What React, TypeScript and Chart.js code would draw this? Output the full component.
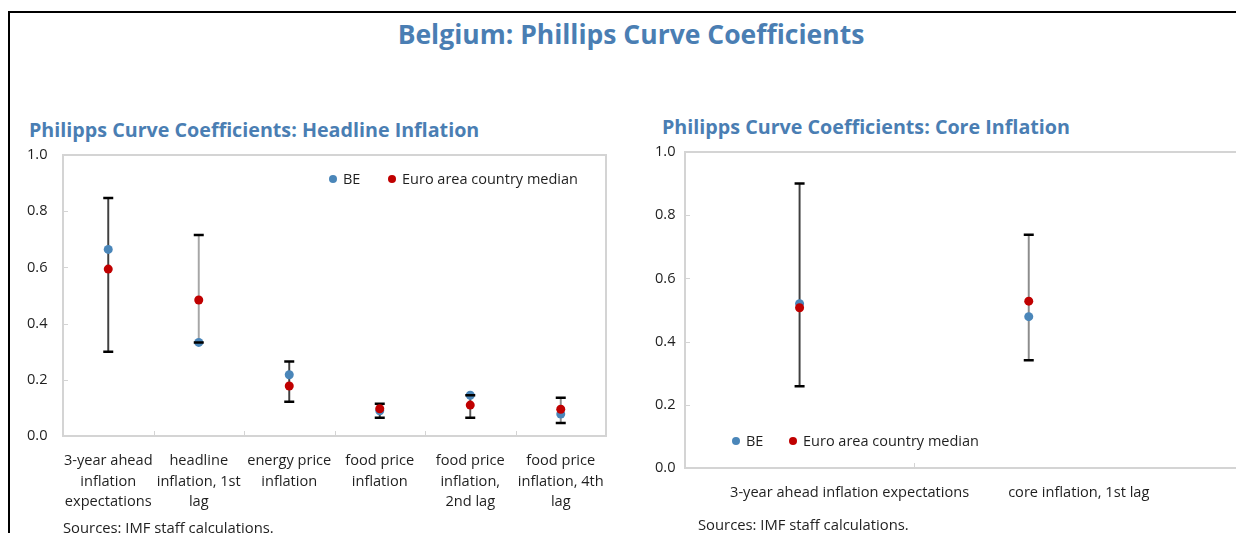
import React, { useEffect, useRef } from 'react';
import { Chart, registerables } from 'chart.js';

Chart.register(...registerables);

// ---------- data ----------
const headlineCategories: string[][] = [
  ['3-year ahead', 'inflation', 'expectations'],
  ['headline', 'inflation, 1st', 'lag'],
  ['energy price', 'inflation'],
  ['food price', 'inflation'],
  ['food price', 'inflation,', '2nd lag'],
  ['food price', 'inflation, 4th', 'lag'],
];
const headlineBE = [0.664, 0.333, 0.218, 0.09, 0.145, 0.078];
const headlineMedian = [0.594, 0.484, 0.178, 0.097, 0.11, 0.095];
const headlineLow = [0.3, 0.333, 0.122, 0.065, 0.065, 0.046];
const headlineHigh = [0.847, 0.715, 0.265, 0.115, 0.145, 0.136];

const coreCategories: string[] = ['3-year ahead inflation expectations', 'core inflation, 1st lag'];
const coreBE = [0.52, 0.479];
const coreMedian = [0.507, 0.528];
const coreLow = [0.259, 0.341];
const coreHigh = [0.9, 0.738];

const yMin = 0;
const yMax = 1;
const yStep = 0.2;

const seriesNames = ['BE', 'Euro area country median'];

// ---------- styles ----------
const BLUE = '#4a86b9';
const RED = '#c00000';
const TITLE_BLUE = '#4a7eb3';
const TEXT = '#1f1f1f';
const FONT = '"Open Sans", "Noto Sans", sans-serif';
const headlineLineColors = ['#404040', '#a6a6a6', '#404040', '#404040', '#595959', '#8c8c8c'];
const coreLineColors = ['#404040', '#8c8c8c'];

const framePlugin = {
  id: 'frame',
  beforeDatasetsDraw(chart: any, _args: any, opts: any) {
    const { ctx, chartArea: a, scales } = chart;
    ctx.save();
    ctx.strokeStyle = '#d4d4d4';
    ctx.lineWidth = 2;
    ctx.strokeRect(a.left, a.top, a.right - a.left, a.bottom - a.top);
    ctx.lineWidth = 1;
    const y = scales.y;
    y.ticks.forEach((_t: any, i: number) => {
      const py = Math.round(y.getPixelForTick(i)) + 0.5;
      ctx.beginPath();
      ctx.moveTo(a.left, py);
      ctx.lineTo(a.left + 5, py);
      ctx.stroke();
    });
    const x = scales.x;
    const n = opts.boundaries || 0;
    for (let i = 1; i < n; i++) {
      const px = Math.round((x.getPixelForValue(i - 1) + x.getPixelForValue(i)) / 2) + 0.5;
      ctx.beginPath();
      ctx.moveTo(px, a.bottom);
      ctx.lineTo(px, a.bottom - 5);
      ctx.stroke();
    }
    ctx.restore();
  },
};

type ChartProps = {
  labels: any[];
  nCats: number;
  be: number[];
  med: number[];
  lo: number[];
  hi: number[];
  lineColors: string[];
  width: number;
  height: number;
  left: number;
  top: number;
  padTop: number;
  padRight: number;
  padLeft: number;
  yWidth: number;
  xHeight: number;
  xPad: number;
  labelOffset: number;
};

function ErrorChart(p: ChartProps) {
  const ref = useRef<HTMLCanvasElement | null>(null);
  useEffect(() => {
    if (!ref.current) return;
    const ranges = p.lo.map((l, i) => [l, p.hi[i]]);
    const chart = new Chart(ref.current, {
      type: 'bar',
      data: {
        labels: p.labels,
        datasets: [
          {
            type: 'line',
            label: seriesNames[1],
            data: p.med,
            showLine: false,
            pointRadius: 4.5,
            pointBorderWidth: 0,
            pointBackgroundColor: RED,
            backgroundColor: RED,
            borderColor: RED,
            order: 0,
          } as any,
          {
            type: 'line',
            label: 'high',
            data: p.hi,
            showLine: false,
            pointStyle: 'line',
            pointRadius: 5,
            pointBorderWidth: 2.5,
            pointBorderColor: '#000',
            borderColor: '#000',
            order: 1,
          } as any,
          {
            type: 'line',
            label: 'low',
            data: p.lo,
            showLine: false,
            pointStyle: 'line',
            pointRadius: 5,
            pointBorderWidth: 2.5,
            pointBorderColor: '#000',
            borderColor: '#000',
            order: 1,
          } as any,
          {
            type: 'line',
            label: seriesNames[0],
            data: p.be,
            showLine: false,
            pointRadius: 4.5,
            pointBorderWidth: 0,
            pointBackgroundColor: BLUE,
            backgroundColor: BLUE,
            borderColor: BLUE,
            order: 2,
          } as any,
          {
            type: 'bar',
            label: 'range',
            data: ranges as any,
            backgroundColor: p.lineColors,
            borderWidth: 0,
            barThickness: 1.3,
            grouped: false,
            order: 3,
          } as any,
        ],
      },
      options: {
        responsive: false,
        animation: false,
        events: [],
        layout: { padding: { top: p.padTop, right: p.padRight, left: p.padLeft, bottom: 0 } },
        plugins: {
          legend: { display: false },
          tooltip: { enabled: false },
          title: { display: false },
          frame: { boundaries: p.nCats },
        } as any,
        scales: {
          x: {
            type: 'category',
            offset: true,
            grid: { display: false },
            border: { display: false },
            ticks: {
              color: TEXT,
              font: { family: FONT, size: 14.6, lineHeight: 1.4 },
              padding: p.xPad,
              maxRotation: 0,
              minRotation: 0,
              autoSkip: false,
              labelOffset: p.labelOffset,
            },
            afterFit: (s: any) => {
              s.height = p.xHeight;
            },
          },
          y: {
            type: 'linear',
            min: yMin,
            max: yMax,
            grid: { display: false, drawTicks: false },
            border: { display: false },
            ticks: {
              stepSize: yStep,
              color: TEXT,
              font: { family: FONT, size: 14.6 },
              padding: 0,
              crossAlign: 'far',
              callback: (v: any) => Number(v).toFixed(1),
            },
            afterFit: (s: any) => {
              s.width = p.yWidth;
            },
          },
        },
      } as any,
      plugins: [framePlugin as any],
    });
    return () => chart.destroy();
  }, []);
  return (
    <canvas
      ref={ref}
      width={p.width}
      height={p.height}
      style={{ position: 'absolute', left: p.left, top: p.top, width: p.width, height: p.height }}
    />
  );
}

function Legend({ x, y, gap }: { x: number; y: number; gap: number }) {
  const dot = (c: string, cx: number) => (
    <div
      style={{
        position: 'absolute',
        left: cx - 4,
        top: y - 4,
        width: 8,
        height: 8,
        borderRadius: 4,
        background: c,
      }}
    />
  );
  const text = (t: string, lx: number) => (
    <div
      style={{
        position: 'absolute',
        left: lx,
        top: y - 10,
        height: 20,
        lineHeight: '20px',
        fontFamily: FONT,
        fontSize: 14.5,
        color: TEXT,
        whiteSpace: 'nowrap',
      }}
    >
      {t}
    </div>
  );
  return (
    <>
      {dot(BLUE, x)}
      {text(seriesNames[0], x + 10)}
      {dot(RED, x + gap)}
      {text(seriesNames[1], x + gap + 10)}
    </>
  );
}

function Text({
  x,
  y,
  size,
  bold,
  color,
  children,
  center,
}: {
  x: number;
  y: number;
  size: number;
  bold?: boolean;
  color: string;
  children: any;
  center?: boolean;
}) {
  return (
    <div
      style={{
        position: 'absolute',
        left: center ? x - 400 : x,
        width: center ? 800 : undefined,
        textAlign: center ? 'center' : 'left',
        top: y - size,
        height: size * 2,
        lineHeight: `${size * 2}px`,
        fontFamily: FONT,
        fontSize: size,
        fontWeight: bold ? 700 : 400,
        color,
        whiteSpace: 'nowrap',
      }}
    >
      {children}
    </div>
  );
}

export default function App() {
  return (
    <div
      style={{
        position: 'fixed',
        left: 0,
        top: 0,
        width: 1236,
        height: 533,
        overflow: 'hidden',
        background: '#fff',
      }}
    >
      <div
        style={{
          position: 'absolute',
          left: 8,
          top: 11,
          width: 1300,
          height: 600,
          borderTop: '2px solid #000',
          borderLeft: '2px solid #000',
        }}
      />
      <Text x={631} y={34} size={26.5} bold color={TITLE_BLUE} center>
        Belgium: Phillips Curve Coefficients
      </Text>
      <Text x={29} y={130} size={19.7} bold color={TITLE_BLUE}>
        Philipps Curve Coefficients: Headline Inflation
      </Text>
      <Text x={662} y={127} size={19.7} bold color={TITLE_BLUE}>
        Philipps Curve Coefficients: Core Inflation
      </Text>

      <ErrorChart
        labels={headlineCategories}
        nCats={headlineCategories.length}
        be={headlineBE}
        med={headlineMedian}
        lo={headlineLow}
        hi={headlineHigh}
        lineColors={headlineLineColors}
        left={20}
        top={145}
        width={600}
        height={371}
        padTop={10}
        padRight={14}
        padLeft={7}
        yWidth={36}
        xHeight={80}
        xPad={7}
        labelOffset={0}
      />
      <ErrorChart
        labels={[...coreCategories, '']}
        nCats={coreCategories.length}
        be={coreBE}
        med={coreMedian}
        lo={coreLow}
        hi={coreHigh}
        lineColors={coreLineColors}
        left={640}
        top={140}
        width={740}
        height={378}
        padTop={12}
        padRight={2}
        padLeft={15}
        yWidth={30}
        xHeight={50}
        xPad={7}
        labelOffset={50}
      />

      <Legend x={333} y={179} gap={59} />
      <Legend x={736} y={441} gap={57} />

      <Text x={63} y={528} size={14.8} color={TEXT}>
        Sources: IMF staff calculations.
      </Text>
      <Text x={698} y={525} size={14.8} color={TEXT}>
        Sources: IMF staff calculations.
      </Text>
    </div>
  );
}
